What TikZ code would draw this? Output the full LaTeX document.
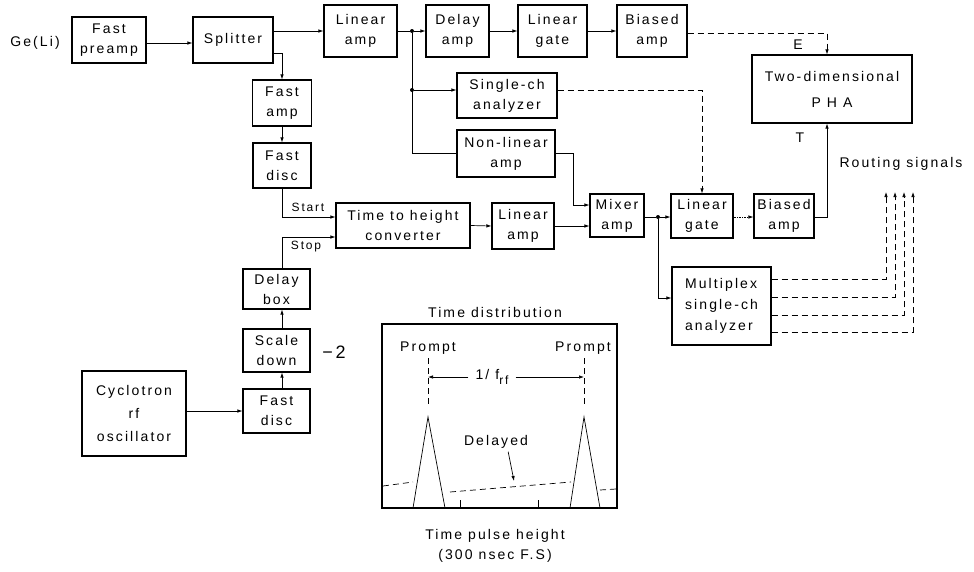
\documentclass[tikz,border=0pt]{standalone}
\usepackage{fontspec}
\setmainfont[LetterSpace=15]{Liberation Sans}
\usetikzlibrary{arrows.meta,calc}
\begin{document}
\begin{tikzpicture}[x=1pt,y=-1pt,
  every node/.style={font=\fontsize{14}{20}\selectfont, inner sep=0pt},
  blk/.style={draw, line width=1.1pt, align=center},
  conn/.style={line width=0.7pt},
  arr/.style={conn, -{Latex[length=5pt,width=3.5pt]}},
  dsh/.style={dash pattern=on 6pt off 4pt},
  jdot/.style={circle, fill, inner sep=0pt, minimum size=4pt},
  small/.style={font=\fontsize{12}{14}\selectfont},
]
\useasboundingbox (0,0) rectangle (974,571);

% ---------- blocks ----------
\node (gel) at (35,43) {Ge(Li)};
\node[blk, minimum width=74pt, minimum height=46pt] (fpre) at (109,40) {Fast\\preamp};
\node[blk, minimum width=80pt, minimum height=46pt] (split) at (233,40) {Splitter};
\node[blk, minimum width=59pt, minimum height=46pt] (famp) at (282,103) {Fast\\amp};
\node[blk, minimum width=58pt, minimum height=45pt] (fdisc1) at (282,165.5) {Fast\\disc};
\node[blk, minimum width=134pt, minimum height=45pt] (tth) at (403,225.5) {Time to height\\converter};
\node[blk, minimum width=62pt, minimum height=46pt] (lamp2) at (523,226) {Linear\\amp};
\node[blk, minimum width=54pt, minimum height=43pt] (mixer) at (617,215.5) {Mixer\\amp};
\node[blk, minimum width=62pt, minimum height=44pt] (lgate2) at (702,216) {Linear\\gate};
\node[blk, minimum width=60pt, minimum height=44pt] (bamp2) at (784,216) {Biased\\amp};
\node[blk, minimum width=99pt, minimum height=78pt, font=\fontsize{14}{21}\selectfont, align=left] (multi) at (721.5,306) {Multiplex\\single-ch\\analyzer};
\node[blk, minimum width=160pt, minimum height=68pt, font=\fontsize{14}{26}\selectfont] (pha) at (832,89) {Two-dimensional\\P H A};
\node[blk, minimum width=73pt, minimum height=52pt] (lamp1) at (360.5,31) {Linear\\amp};
\node[blk, minimum width=63pt, minimum height=52pt] (damp) at (457.5,31) {Delay\\amp};
\node[blk, minimum width=69pt, minimum height=52pt] (lgate1) at (552.5,31) {Linear\\gate};
\node[blk, minimum width=70pt, minimum height=52pt] (bamp1) at (652,31) {Biased\\amp};
\node[blk, minimum width=100pt, minimum height=45pt] (sca) at (507,95.5) {Single-ch\\analyzer};
\node[blk, minimum width=98pt, minimum height=47pt] (nla) at (506,153.5) {Non-linear\\amp};
\node[blk, minimum width=67pt, minimum height=40pt] (dbox) at (276.5,289) {Delay\\box};
\node[blk, minimum width=67pt, minimum height=43pt] (scale) at (276.5,350.5) {Scale\\down};
\node[blk, minimum width=67pt, minimum height=44pt] (fdisc2) at (276.5,411) {Fast\\disc};
\node[blk, minimum width=104pt, minimum height=85pt, font=\fontsize{14}{23}\selectfont] (cyc) at (134,413.5) {Cyclotron\\rf\\oscillator};
\node[font=\fontsize{18}{20}\selectfont] (minus2) at (334,352) {−2};

% ---------- helper coordinates ----------
\coordinate (colx) at (282,0);
\coordinate (tcol) at (827,0);
\coordinate (r1) at (886,192);
\coordinate (r2) at (895,192);
\coordinate (r3) at (904,192);
\coordinate (r4) at (913,192);

% ---------- connectors ----------
\draw[arr] (fpre.east |- 0,43) -- (split.west |- 0,43);
\draw[arr] (split.east |- lamp1.west) -- (lamp1.west);
\draw[arr] (split.east |- 0,53) -| (famp.north);
\draw[arr] (famp.south) -- (fdisc1.north);
\draw[arr] (fdisc1.south) |- (tth.west |- 0,217);
\node[small] (start) at (308,207) {Start};
\draw[arr] (dbox.north -| colx) |- (tth.west |- 0,237);
\node[small] (stop) at (306,247) {Stop};
\draw[arr] (fdisc2.north -| colx) -- (scale.south -| colx);
\draw[arr] (scale.north -| colx) -- (dbox.south -| colx);
\draw[arr] (cyc.east |- fdisc2.west) -- (fdisc2.west);
\draw[arr] (tth.east) -- (lamp2.west);
\draw[arr] (lamp2.east) -- (mixer.west |- lamp2.east);

\node[jdot] (j1) at (412,31) {};
\node[jdot] (j2) at (412,90) {};
\draw[conn] (lamp1.east) -- (j1);
\draw[arr] (j1) -- (damp.west);
\draw[conn] (j1) |- (nla.west);
\draw[arr] (j2) -- (sca.west |- j2);
\draw[arr] (damp.east) -- (lgate1.west);
\draw[arr] (lgate1.east) -- (bamp1.west);
\draw[arr, dsh] (bamp1.east |- 0,33) -| (pha.north -| tcol);
\node (elab) at (798,45) {E};
\draw[arr, dsh] (sca.east |- j2) -| (lgate2.north);
\draw[arr] (nla.east) -- (nla.east -| 573,0) |- (mixer.west |- 0,205);

\node[jdot] (j3) at (658,217) {};
\draw[conn] (mixer.east |- j3) -- (j3);
\draw[arr] (j3) -- (lgate2.west |- j3);
\draw[arr, densely dotted] (lgate2.east |- j3) -- (bamp2.west |- j3);
\draw[arr] (bamp2.east |- j3) -| (pha.south -| tcol);
\node (tlab) at (800,138) {T};
\draw[arr] (j3) |- (multi.west |- 0,298);

\draw[arr, dsh] (multi.east |- 0,279) -| (r1);
\draw[arr, dsh] (multi.east |- 0,297) -| (r2);
\draw[arr, dsh] (multi.east |- 0,315) -| (r3);
\draw[arr, dsh] (multi.east |- 0,332) -| (r4);
\node (routing) at (901,164) {Routing signals};

% ---------- time distribution plot ----------
\node[draw, line width=1.1pt, minimum width=235pt, minimum height=184pt] (plot) at (499.5,416) {};
\node (ptitle) at (495,312) {Time distribution};
\node (pr1) at (428,348) {Prompt};
\node (pr2) at (583,348) {Prompt};
\coordinate (pk1) at (428,417);
\coordinate (pk2) at (584,417);
\draw[conn, dsh] (428,358) -- (428,405);
\draw[conn, dsh] (584,358) -- (584,405);
\node[inner xsep=7pt] (frf) at (492,377) {1/ f\raisebox{-5pt}{\fontsize{12}{14}\selectfont rf}};
\draw[arr] (frf.west) -- (428,377);
\draw[arr] (frf.east) -- (584,377);
\draw[conn] (413,508) -- (pk1) -- (445,508);
\draw[conn] (570,508) -- (pk2) -- (600,508);
\draw[conn, dsh] (383,486) -- (413,482);
\draw[conn, dsh] (450,492) -- (571,482);
\draw[conn, dsh] (600,490) -- (616,489);
\node (delayed) at (496,442) {Delayed};
\draw[arr] (delayed.south east) ++(-20,3) -- (514,481);
\draw[conn] (460,508) -- (460,500);
\draw[conn] (538,508) -- (538,500);
\node (xlab1) at (495,536) {Time pulse height};
\node (xlab2) at (495,556) {(300 nsec F.S)};
\end{tikzpicture}
\end{document}
